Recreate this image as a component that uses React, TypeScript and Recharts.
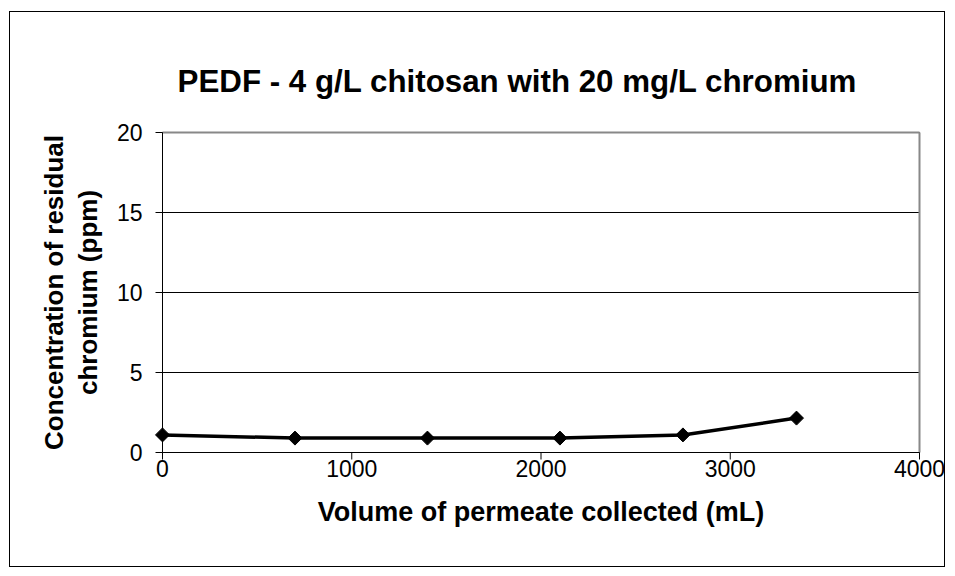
import React from 'react'
import {
  LineChart,
  Line,
  XAxis,
  YAxis,
  CartesianGrid,
  ReferenceLine,
  Label
} from 'recharts'

const volumes = [0, 700, 1400, 2100, 2750, 3350]
const chromium = [1.1, 0.9, 0.9, 0.9, 1.1, 2.15]
const xTicks = [0, 1000, 2000, 3000, 4000]
const yTicks = [0, 5, 10, 15, 20]

const FONT = 'Arial, "Liberation Sans", sans-serif'

const data = volumes.map((v, i) => ({ volume: v, value: chromium[i] }))

const Diamond = (props: any) => {
  const { cx, cy } = props
  if (cx == null || cy == null) return null
  const r = 7
  return (
    <path
      d={`M${cx},${cy - r} L${cx + r},${cy} L${cx},${cy + r} L${cx - r},${cy} Z`}
      fill="#000"
      stroke="#000"
    />
  )
}

const YTitle = (props: any) => {
  const { viewBox } = props
  const cy = viewBox.y + viewBox.height / 2
  const lines = [
    { x: 54, text: 'Concentration of residual' },
    { x: 88, text: 'chromium (ppm)' }
  ]
  return (
    <g>
      {lines.map((l) => (
        <text
          key={l.text}
          x={l.x}
          y={cy}
          transform={`rotate(-90, ${l.x}, ${cy})`}
          textAnchor="middle"
          dominantBaseline="central"
          fontFamily={FONT}
          fontWeight="bold"
          fontSize={26}
          fill="#000"
        >
          {l.text}
        </text>
      ))}
    </g>
  )
}

export default function App() {
  return (
    <div style={{ position: 'relative', width: 955, height: 576, background: '#fff' }}>
      <style>{`body{margin:0}`}</style>
      <div
        style={{
          position: 'absolute',
          left: 9,
          top: 11,
          width: 936,
          height: 556,
          border: '1px solid #000',
          boxSizing: 'border-box'
        }}
      />
      <div
        style={{
          position: 'absolute',
          left: 0,
          top: 63,
          width: 1034,
          textAlign: 'center',
          fontFamily: FONT,
          fontWeight: 'bold',
          fontSize: 31.3,
          lineHeight: '38px',
          color: '#000'
        }}
      >
        PEDF - 4 g/L chitosan with 20 mg/L chromium
      </div>
      <div style={{ position: 'absolute', left: 0, top: 0 }}>
        <LineChart
          width={955}
          height={576}
          data={data}
          margin={{ top: 132.5, right: 35.5, bottom: 93.5, left: 102.5 }}
        >
          <CartesianGrid vertical={false} stroke="#000" strokeWidth={1} />
          <XAxis
            dataKey="volume"
            type="number"
            domain={[0, 4000]}
            ticks={xTicks}
            height={30}
            axisLine={{ stroke: '#000' }}
            tickLine={{ stroke: '#000' }}
            tickSize={7}
            tick={{ fill: '#000', fontFamily: FONT, fontSize: 23 }}
            tickMargin={1}
          >
            <Label
              value="Volume of permeate collected (mL)"
              position="bottom"
              offset={19}
              style={{ fontFamily: FONT, fontWeight: 'bold', fontSize: 27, fill: '#000' }}
            />
          </XAxis>
          <YAxis
            type="number"
            domain={[0, 20]}
            ticks={yTicks}
            width={60}
            axisLine={{ stroke: '#000' }}
            tickLine={{ stroke: '#000' }}
            tickSize={7}
            tickMargin={13}
            tick={{ fill: '#000', fontFamily: FONT, fontSize: 23 }}
          >
            <Label content={<YTitle />} />
          </YAxis>
          <ReferenceLine y={20} stroke="#888" strokeWidth={2} />
          <ReferenceLine x={4000} stroke="#888" strokeWidth={2} />
          <Line
            type="linear"
            dataKey="value"
            stroke="#000"
            strokeWidth={3.5}
            dot={<Diamond />}
            activeDot={false}
            isAnimationActive={false}
          />
        </LineChart>
      </div>
    </div>
  )
}
